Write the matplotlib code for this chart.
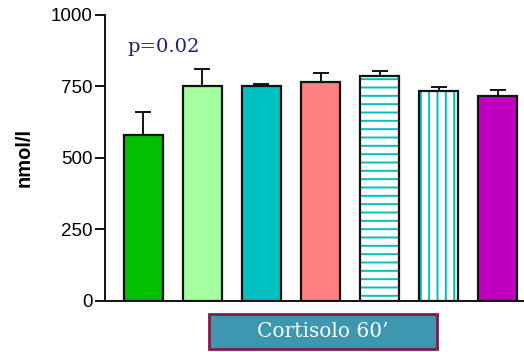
import matplotlib
matplotlib.use("Agg")
import matplotlib.pyplot as plt
import matplotlib.patches as patches

# Cortisol at 60', mean + upper SEM per group
groups = ["G1", "G2", "G3", "G4", "G5", "G6", "G7"]
means = [580, 752, 750, 765, 786, 735, 717]
sem = [81, 59, 7, 31, 19, 12, 21]
fills = ["#00C000", "#A6FFA0", "#00C0C0", "#FF8080", "white", "white", "#C000C0"]
hatches = [None, None, None, None, "--", "||", None]
yticks = [0, 250, 500, 750, 1000]

HATCH_COL = "#00BFBF"
EDGE = "#111111"
SERIF = ["DejaVu Serif", "Liberation Serif"]

plt.rcParams["font.family"] = ["Liberation Sans", "DejaVu Sans"]
plt.rcParams["hatch.linewidth"] = 1.4

fig = plt.figure(figsize=(5.24, 3.52), dpi=100)
ax = fig.add_axes([0.2004, 0.145, 0.80, 0.8125])

x = list(range(len(groups)))
ax.errorbar(x, means, yerr=[[0] * len(sem), sem], fmt="none",
            ecolor=EDGE, elinewidth=1.4, capsize=5.5, capthick=1.4, zorder=1)
for xi, m, fc, h in zip(x, means, fills, hatches):
    if h:
        # cyan hatch fill first, black outline drawn on top
        ax.bar(xi, m, width=0.66, color=fc, edgecolor=HATCH_COL,
               linewidth=0, hatch=h, zorder=2)
        fc = "none"
    ax.bar(xi, m, width=0.66, color=fc, edgecolor=EDGE, linewidth=1.6,
           zorder=3)

ax.set_xlim(-0.65, 6.45)
ax.set_ylim(0, 1000)
ax.set_yticks(yticks)
ax.set_yticklabels([str(t) for t in yticks], fontsize=13.5)
ax.set_xticks([])
for side in ("top", "right"):
    ax.spines[side].set_visible(False)
for side in ("left", "bottom"):
    ax.spines[side].set_linewidth(1.4)
    ax.spines[side].set_color(EDGE)
ax.tick_params(axis="y", direction="out", length=7, width=1.4, color=EDGE, pad=2)
ax.set_ylabel("nmol/l", fontsize=14.5, fontweight="bold", labelpad=12)

ax.text(0.35, 888, "p=0.02", ha="center", va="center", fontsize=14,
        color="#1A237E", family=SERIF)

# label box under the bars
fig.add_artist(patches.Rectangle(
    (0.399, 0.008), 0.435, 0.100, transform=fig.transFigure,
    facecolor="#3D97AE", edgecolor="#7B1E4E", linewidth=2.0))
fig.text(0.6165, 0.058, "Cortisolo 60\u2019", ha="center", va="center",
         fontsize=14.5, color="white", family=SERIF)

fig.savefig("out.png", dpi=100)
